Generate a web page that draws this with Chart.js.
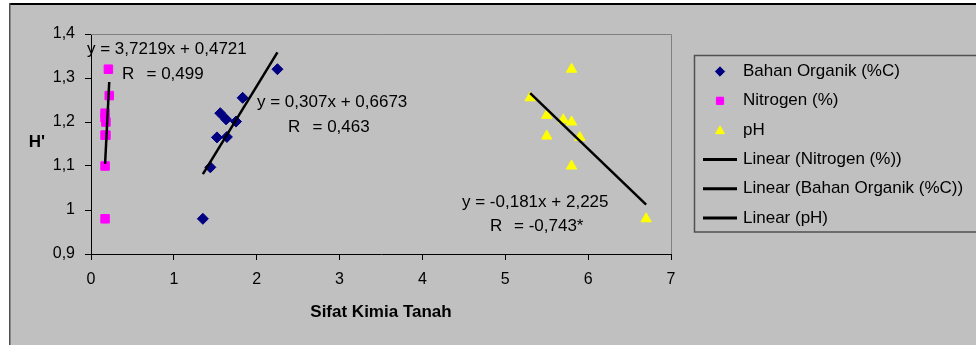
<!DOCTYPE html>
<html>
<head>
<meta charset="utf-8">
<script src="https://cdn.jsdelivr.net/npm/chart.js@4.4.0/dist/chart.umd.min.js"></script>
<style>
  html, body { margin: 0; padding: 0; background: #ffffff; }
  #wrap { width: 976px; height: 345px; position: relative; }
</style>
</head>
<body>
<div id="wrap"><canvas id="c" width="976" height="345"></canvas></div>
<script>
// Soil chemistry (x) against diversity index H' (y), nine samples per property
const nitrogenX = [0.17, 0.17, 0.17, 0.18, 0.17, 0.18, 0.17, 0.22, 0.21];
const nitrogenY = [0.98, 1.10, 1.17, 1.17, 1.21, 1.20, 1.22, 1.26, 1.32];

const organikX = [1.35, 1.44, 1.52, 1.56, 1.63, 1.64, 1.75, 1.83, 2.25];
const organikY = [0.98, 1.097, 1.165, 1.22, 1.206, 1.166, 1.201, 1.255, 1.32];

const phX = [5.3, 5.5, 5.5, 5.7, 5.8, 5.8, 5.8, 5.9, 6.7];
const phY = [1.255, 1.215, 1.168, 1.205, 1.32, 1.20, 1.10, 1.165, 0.98];

// Linear trend coefficients (slope, intercept) as printed on the chart
const nitrogenFit = [3.7219, 0.4721];
const organikFit = [0.307, 0.6673];
const phFit = [-0.181, 2.225];

const xTickLabels = ['0', '1', '2', '3', '4', '5', '6', '7'];
const yTickLabels = ['0,9', '1', '1,1', '1,2', '1,3', '1,4'];

const FONT = "'Liberation Sans', Arial, sans-serif";

function points(xs, ys) {
  return xs.map((x, i) => ({ x: x, y: ys[i] }));
}
function trend(xs, fit) {
  const lo = Math.min(...xs), hi = Math.max(...xs);
  return [{ x: lo, y: fit[0] * lo + fit[1] }, { x: hi, y: fit[0] * hi + fit[1] }];
}

// Frame, plot border, axis label H', equations and legend
const decorations = {
  id: 'decorations',
  beforeDraw(chart) {
    const ctx = chart.ctx;
    ctx.save();
    ctx.fillStyle = '#ffffff';
    ctx.fillRect(0, 0, chart.width, chart.height);
    ctx.fillStyle = '#c0c0c0';
    ctx.fillRect(9, 3, chart.width, chart.height);
    ctx.strokeStyle = '#000000';
    ctx.lineWidth = 2;
    ctx.beginPath();
    ctx.moveTo(9, 4); ctx.lineTo(chart.width, 4);
    ctx.stroke();
    ctx.strokeStyle = '#505050';
    ctx.lineWidth = 1.5;
    ctx.beginPath();
    ctx.moveTo(9.75, 3); ctx.lineTo(9.75, chart.height);
    ctx.stroke();
    ctx.restore();
  },
  beforeDatasetsDraw(chart) {
    const ctx = chart.ctx, a = chart.chartArea;
    ctx.save();
    ctx.strokeStyle = '#808080';
    ctx.lineWidth = 1;
    ctx.beginPath();
    ctx.moveTo(a.left, a.top + 0.5);
    ctx.lineTo(a.right + 0.5, a.top + 0.5);
    ctx.lineTo(a.right + 0.5, a.bottom);
    ctx.stroke();
    ctx.restore();
  },
  afterDraw(chart) {
    const ctx = chart.ctx;
    ctx.save();
    ctx.fillStyle = '#000000';
    ctx.textBaseline = 'middle';

    ctx.font = 'bold 17px ' + FONT;
    ctx.textAlign = 'center';
    ctx.fillText("H'", 37, 142);

    ctx.font = '17px ' + FONT;
    ctx.textAlign = 'left';
    const notes = [
      ['y = 3,7219x + 0,4721', 87, 49],
      ['R', 122, 74], ['= 0,499', 146.5, 74],
      ['y = 0,307x + 0,6673', 257, 102],
      ['R', 288, 127], ['= 0,463', 312.5, 127],
      ['y = -0,181x + 2,225', 462, 202],
      ['R', 490, 226], ['= -0,743*', 514, 226]
    ];
    notes.forEach(n => ctx.fillText(n[0], n[1], n[2]));

    // legend box
    const bx = 694.5, by = 55.5, rowH = 29.3, firstY = 71.5;
    ctx.strokeStyle = '#505050';
    ctx.lineWidth = 1.5;
    ctx.strokeRect(bx, by, 320, 176.5);
    chart.data.datasets.forEach((ds, i) => {
      const y = firstY + i * rowH;
      if (ds.showLine) {
        ctx.strokeStyle = ds.borderColor;
        ctx.lineWidth = 3;
        ctx.beginPath();
        ctx.moveTo(703, y); ctx.lineTo(737, y);
        ctx.stroke();
      } else {
        ctx.fillStyle = ds.backgroundColor;
        ctx.strokeStyle = ds.borderColor;
        ctx.lineWidth = 1;
        Chart.helpers.drawPoint(ctx, {
          pointStyle: ds.pointStyle,
          radius: ds.pointRadius * 0.85,
          rotation: 0,
          borderWidth: 1
        }, 720, ds.pointStyle === 'triangle' ? y + 1 : y);
      }
      ctx.fillStyle = '#000000';
      ctx.fillText(ds.label, 743, y);
    });
    ctx.restore();
  }
};

const ctx = document.getElementById('c').getContext('2d');
new Chart(ctx, {
  type: 'scatter',
  data: {
    datasets: [
      {
        label: 'Bahan Organik (%C)',
        data: points(organikX, organikY),
        pointStyle: 'rectRot', pointRadius: 5.5,
        backgroundColor: '#000080', borderColor: '#000080', borderWidth: 1,
        order: 2
      },
      {
        label: 'Nitrogen (%)',
        data: points(nitrogenX, nitrogenY),
        pointStyle: 'rect', pointRadius: 6,
        backgroundColor: '#ff00ff', borderColor: '#ff00ff', borderWidth: 1,
        order: 2
      },
      {
        label: 'pH',
        data: points(phX, phY),
        pointStyle: 'triangle', pointRadius: 6,
        backgroundColor: '#ffff00', borderColor: '#ffff00', borderWidth: 1,
        order: 2
      },
      {
        label: 'Linear (Nitrogen (%))',
        data: trend(nitrogenX, nitrogenFit),
        showLine: true, borderColor: '#000000', borderWidth: 2.5, pointRadius: 0,
        order: 1
      },
      {
        label: 'Linear (Bahan Organik (%C))',
        data: trend(organikX, organikFit),
        showLine: true, borderColor: '#000000', borderWidth: 2.5, pointRadius: 0,
        order: 1
      },
      {
        label: 'Linear (pH)',
        data: trend(phX, phFit),
        showLine: true, borderColor: '#000000', borderWidth: 2.5, pointRadius: 0,
        order: 1
      }
    ]
  },
  options: {
    responsive: false,
    animation: false,
    events: [],
    layout: { padding: { left: 0, top: 34, right: 305, bottom: 0 } },
    plugins: {
      legend: { display: false },
      tooltip: { enabled: false }
    },
    scales: {
      x: {
        type: 'linear',
        min: 0, max: 7,
        ticks: {
          stepSize: 1,
          color: '#000000',
          font: { family: FONT, size: 16 },
          padding: 10,
          maxRotation: 0,
          callback: v => xTickLabels[Math.round(v)]
        },
        grid: { drawOnChartArea: false, drawTicks: true, tickLength: 6, color: '#000000' },
        border: { display: true, color: '#000000', width: 1 },
        title: {
          display: true,
          text: 'Sifat Kimia Tanah',
          color: '#000000',
          font: { family: FONT, size: 17, weight: 'bold' },
          padding: { top: 0, bottom: 22 }
        },
        afterFit: s => { s.height = 91; }
      },
      y: {
        type: 'linear',
        min: 0.9, max: 1.4,
        ticks: {
          stepSize: 0.1,
          color: '#000000',
          font: { family: FONT, size: 16 },
          padding: 10,
          callback: v => yTickLabels[Math.round((v - 0.9) * 10)]
        },
        grid: { drawOnChartArea: false, drawTicks: true, tickLength: 6, color: '#000000' },
        border: { display: true, color: '#000000', width: 1 },
        afterFit: s => { s.width = 91; }
      }
    }
  },
  plugins: [decorations]
});
</script>
</body>
</html>
